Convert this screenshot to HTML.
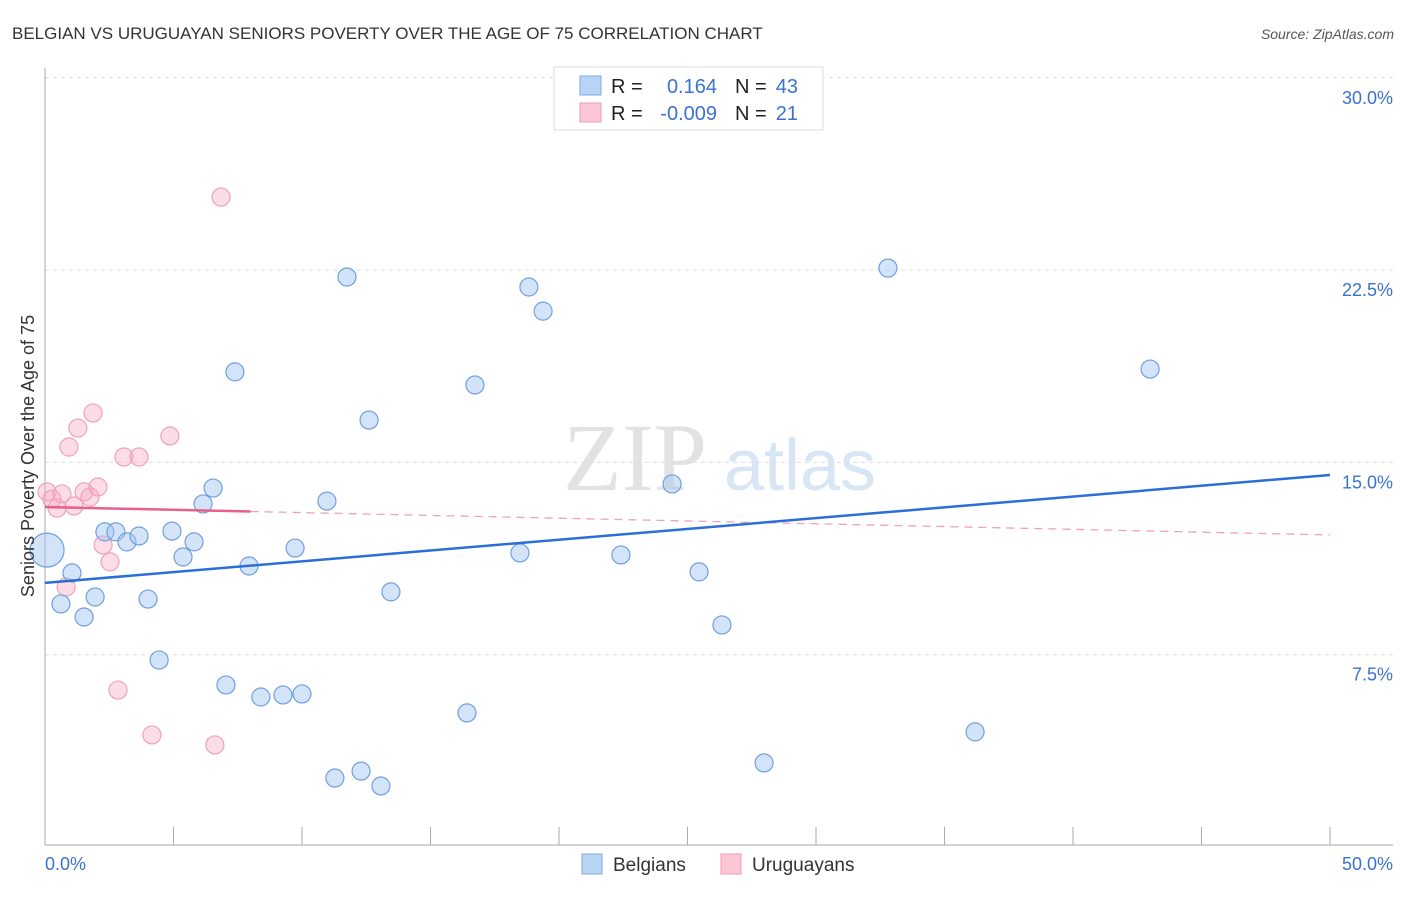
<!DOCTYPE html>
<html><head><meta charset="utf-8"><style>
body{margin:0;background:#fff;font-family:"Liberation Sans",sans-serif}
</style></head><body>
<svg id="c" width="1406" height="892" xmlns="http://www.w3.org/2000/svg" style="font-family:'Liberation Sans',sans-serif">
<text x="12" y="39" font-size="17" fill="#333">BELGIAN VS URUGUAYAN SENIORS POVERTY OVER THE AGE OF 75 CORRELATION CHART</text>
<text x="1394" y="39" font-size="14" fill="#555" font-style="italic" text-anchor="end">Source: ZipAtlas.com</text>
<g>
<text x="635" y="490" font-size="96" fill="#e2e2e2" font-family="Liberation Serif,serif" text-anchor="middle">ZIP</text>
<text x="800" y="490" font-size="72" fill="#d8e5f5" text-anchor="middle">atlas</text>
</g>
<g id="grid"></g><g id="axes"></g><g id="marks"></g>
<text transform="translate(34,456) rotate(-90)" font-size="18" fill="#333" text-anchor="middle">Seniors Poverty Over the Age of 75</text>
<g>
<rect x="554" y="67" width="269" height="63" fill="#fff" stroke="#ddd"/>
<rect x="580" y="76" width="21" height="19" fill="#b9d3f5" stroke="#7fa9e6"/>
<rect x="580" y="103" width="21" height="19" fill="#fbc6d5" stroke="#f19ab3"/>
<text font-size="20" fill="#222"><tspan x="611" y="93">R =</tspan><tspan x="611" y="120">R =</tspan><tspan x="735" y="93">N =</tspan><tspan x="735" y="120">N =</tspan></text>
<text font-size="20" fill="#3a72d0"><tspan x="717" y="93" text-anchor="end">0.164</tspan><tspan x="717" y="120" text-anchor="end">-0.009</tspan><tspan x="798" y="93" text-anchor="end">43</tspan><tspan x="798" y="120" text-anchor="end">21</tspan></text>
</g>
<g>
<rect x="582" y="854" width="20" height="20" fill="#b9d3f5" stroke="#7fa9e6"/>
<text x="613" y="871" font-size="19" fill="#333">Belgians</text>
<rect x="721" y="854" width="20" height="20" fill="#fbc6d5" stroke="#f19ab3"/>
<text x="752" y="871" font-size="19" fill="#333">Uruguayans</text>
</g>
</svg>
<script>
const yTicks=[7.5,15,22.5,30];
const yTickLabels=["7.5%","15.0%","22.5%","30.0%"];
const xEndLabels=["0.0%","50.0%"];
const belgiansX=[0.08,1.05,0.62,1.52,1.95,2.33,2.76,3.19,3.66,4.01,4.44,4.94,5.37,5.80,6.15,6.54,7.04,7.39,7.94,8.40,9.26,9.73,10.00,10.97,11.28,11.75,12.30,12.61,13.07,13.46,16.42,16.73,18.48,18.83,19.38,22.41,24.40,25.45,26.34,27.98,32.80,36.19,43.00];
const belgiansY=[11.58,10.69,9.48,8.97,9.75,12.29,12.29,11.90,12.13,9.67,7.29,12.32,11.31,11.90,13.38,14.00,6.32,18.53,10.96,5.85,5.93,11.66,5.97,13.49,2.69,22.23,2.96,16.65,2.38,9.95,5.23,18.02,11.47,21.84,20.90,11.39,14.16,10.73,8.66,3.28,22.58,4.49,18.64];
const uruguayansX=[0.08,0.27,0.47,0.66,1.13,0.93,1.28,1.87,1.52,1.75,2.06,2.26,2.53,0.82,2.84,3.07,3.66,4.16,4.86,6.61,6.85];
const uruguayansY=[13.85,13.57,13.22,13.77,13.30,15.60,16.34,16.93,13.85,13.65,14.04,11.78,11.12,10.14,6.12,15.21,15.21,4.37,16.03,3.98,25.35];
const belgiansTrend=[10.30,14.51];
const uruguayansTrend=[13.26,12.17];
const X=v=>45+v*25.7, Y=v=>847-v*25.64;
const NS="http://www.w3.org/2000/svg";
function mk(p,t,a){const e=document.createElementNS(NS,t);for(const k in a)e.setAttribute(k,a[k]);p.appendChild(e);return e;}
const grid=document.getElementById('grid'),axes=document.getElementById('axes'),marks=document.getElementById('marks');
yTicks.forEach((t,i)=>{
 const l=mk(grid,'line',{x1:45,x2:1393,y1:Y(t),y2:Y(t),stroke:'#ddd','stroke-dasharray':'4 4'});
 
 
 const tx=mk(grid,'text',{x:1393,y:Y(t)+26,'font-size':18,fill:'#3a72d0','text-anchor':'end'});
 tx.textContent=yTickLabels[i];
 
 
});
mk(axes,'line',{x1:45,x2:45,y1:68,y2:845,stroke:'#aaa'});
mk(axes,'line',{x1:45,x2:1393,y1:845,y2:845,stroke:'#aaa'});
for(let i=1;i<=10;i++){const t=mk(axes,'line',{x1:X(i*5),x2:X(i*5),y1:827,y2:845,stroke:'#aaa'});
 
 }
[[0,'start'],[50,'end']].forEach((d,i)=>{const t=mk(axes,'text',{x:i?1393:45,y:870,'font-size':18,fill:'#3a72d0','text-anchor':d[1]});t.textContent=xEndLabels[i];
 
 });
uruguayansX.forEach((x,i)=>{const c=mk(marks,'circle',{cx:X(x),cy:Y(uruguayansY[i]),r:9,fill:'rgba(248,170,195,0.4)',stroke:'#f0a0b8','stroke-width':1.2});
 
 });
belgiansX.forEach((x,i)=>{const c=mk(marks,'circle',{cx:X(x),cy:Y(belgiansY[i]),r:i==0?17:9,fill:'rgba(160,195,240,0.45)',stroke:'#6f9fe0','stroke-width':1.2});
 
 });
const ut=v=>uruguayansTrend[0]+(uruguayansTrend[1]-uruguayansTrend[0])*v/50;
let l=mk(marks,'line',{x1:X(8),x2:X(50),y1:Y(ut(8)),y2:Y(ut(50)),stroke:'#f0a0b8','stroke-width':1.3,'stroke-dasharray':'8 6'});


l=mk(marks,'line',{x1:X(0),x2:X(8),y1:Y(ut(0)),y2:Y(ut(8)),stroke:'#e8608a','stroke-width':2.5});


l=mk(marks,'line',{x1:X(0),x2:X(50),y1:Y(belgiansTrend[0]),y2:Y(belgiansTrend[1]),stroke:'#2a6fd6','stroke-width':2.5});


</script>
</body></html>
